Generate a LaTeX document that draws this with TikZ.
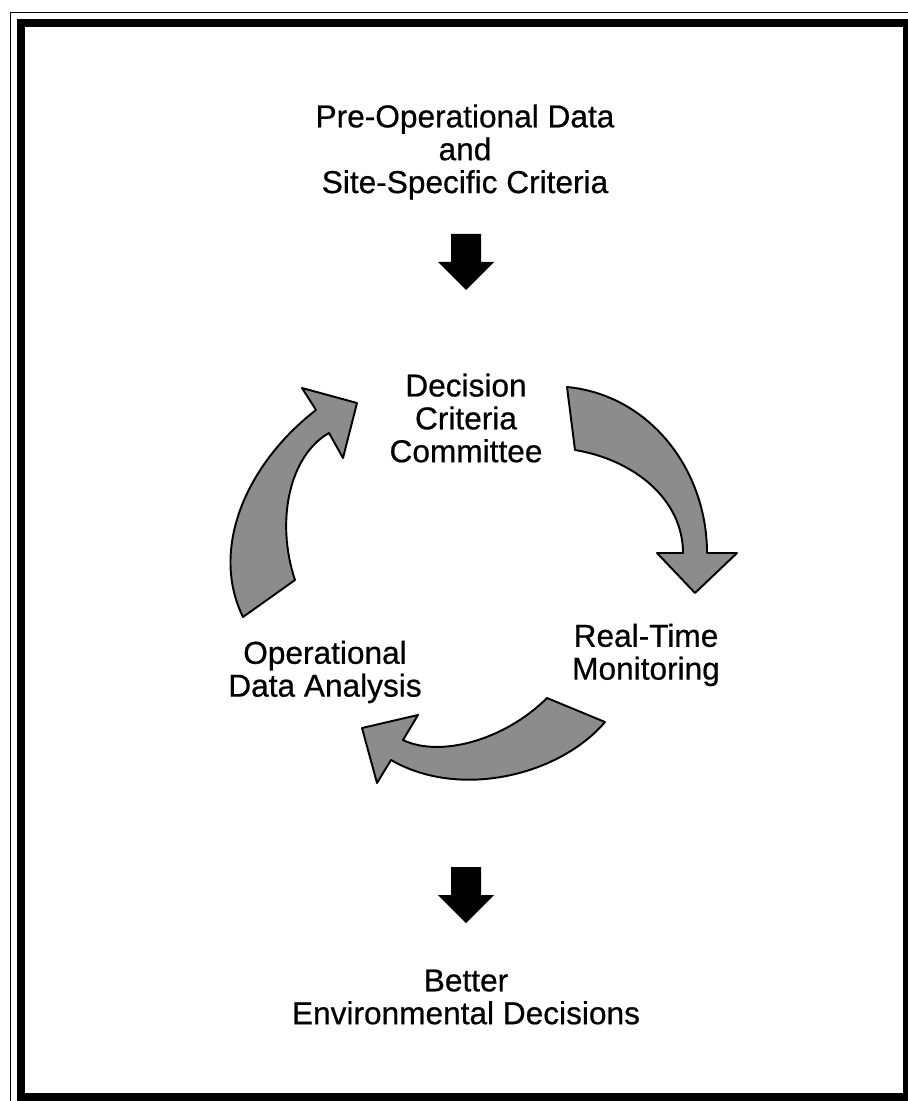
\documentclass[tikz,border=0pt]{standalone}
\usepackage{fontspec}
\setmainfont{Liberation Sans}[FakeBold=0.6]
\begin{document}
\begin{tikzpicture}[x=0.02cm,y=-0.02cm,
    txt/.style={font=\fontsize{18}{18.7}\selectfont,inner sep=0pt,align=center},
    turn/.style={draw=black,line width=1.1pt,fill=black!45,line join=round}]
    \useasboundingbox (0,0) rectangle (907,1101);
    %% Frame
    \draw[line width=1.1pt] (10.5,1110) -- (10.5,12.5) -- (915,12.5);
    \draw[line width=5pt] (21,23) rectangle (907.5,1097.5);
    %% Texts
    \node[txt] (input) at (465,152) {Pre-Operational Data\\and\\Site-Specific Criteria};
    \node[txt] (committee) at (466,418) {Decision\\Criteria\\Committee};
    \node[txt] (monitoring) at (646,655) {Real-Time\\Monitoring};
    \node[txt] (analysis) at (325,672) {Operational\\Data Analysis};
    \node[txt] (output) at (466,997) {Better\\Environmental Decisions};
    %% Black arrows in and out
    \fill (451,234) -- (481,234) -- (481,262) -- (494,262) -- (466,290)
        -- (438,262) -- (451,262) -- cycle;
    \fill (451,867) -- (481,867) -- (481,895) -- (494,895) -- (466,923)
        -- (438,895) -- (451,895) -- cycle;
    %% Cycle: committee -> monitoring
    \draw[turn] (567,387) .. controls (650,395) and (707,470) .. (707,553)
        -- (737,553) -- (695,593) -- (657,553) -- (683,553)
        .. controls (683,500) and (635,460) .. (575,450) -- cycle;
    %% Cycle: monitoring -> analysis
    \draw[turn] (547,698) -- (605,722) .. controls (560,775) and (460,800) .. (391,760)
        -- (377,783) -- (362,728) -- (418,715) -- (403,740)
        .. controls (440,758) and (505,740) .. cycle;
    %% Cycle: analysis -> committee
    \draw[turn] (243,617) .. controls (210,550) and (245,465) .. (316,410)
        -- (302,388) -- (357,403) -- (343,458) -- (329,433)
        .. controls (290,455) and (275,520) .. (295,580) -- cycle;
\end{tikzpicture}
\end{document}
